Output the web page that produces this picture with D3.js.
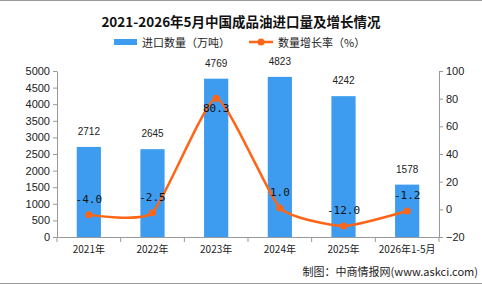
<!DOCTYPE html>
<html>
<head>
<meta charset="utf-8">
<script src="https://cdn.jsdelivr.net/npm/d3@7"></script>
<style>
  body { margin: 0; background: #fff; }
  svg text { font-family: "Noto Sans CJK SC", "DejaVu Sans", sans-serif; }
</style>
</head>
<body>
<div class="chart"></div>
<script>
var years = ["2021年", "2022年", "2023年", "2024年", "2025年", "2026年1-5月"];
var imports = [2712, 2645, 4769, 4823, 4242, 1578];
var growth = [-4.0, -2.5, 80.3, 1.0, -12.0, -1.2];
var leftTicks = [0, 500, 1000, 1500, 2000, 2500, 3000, 3500, 4000, 4500, 5000];
var rightTicks = [-20, 0, 20, 40, 60, 80, 100];

var width = 482, height = 284;
var svg = d3.select(".chart").append("svg").attr("width", width).attr("height", height);

// frame lines top and bottom
svg.append("line").attr("x1", 0).attr("x2", width).attr("y1", 0.5).attr("y2", 0.5).attr("stroke", "#999");
svg.append("line").attr("x1", 0).attr("x2", width).attr("y1", 283.5).attr("y2", 283.5).attr("stroke", "#999");

var x = d3.scaleBand().domain(years).range([57, 439]).paddingInner(0.62).paddingOuter(0.31);
var yL = d3.scaleLinear().domain([0, 5000]).range([237, 71]);
var yR = d3.scaleLinear().domain([-20, 100]).range([237, 71]);

// title
svg.append("text").attr("x", 241).attr("y", 27).attr("text-anchor", "middle")
  .attr("font-size", 13.5).attr("font-weight", "bold").attr("fill", "#111")
  .text("2021-2026年5月中国成品油进口量及增长情况");

// legend
svg.append("rect").attr("x", 114).attr("y", 39).attr("width", 23).attr("height", 6).attr("fill", "#3d9cf0");
svg.append("text").attr("x", 142).attr("y", 47).attr("font-size", 11).attr("fill", "#222").text("进口数量（万吨）");
svg.append("line").attr("x1", 249).attr("x2", 273).attr("y1", 42).attr("y2", 42).attr("stroke", "#ff6516").attr("stroke-width", 2.5);
svg.append("circle").attr("cx", 261).attr("cy", 42).attr("r", 3.5).attr("fill", "#ff6516");
svg.append("text").attr("x", 278).attr("y", 47).attr("font-size", 11).attr("fill", "#222").text("数量增长率（%）");

// axes
var axisL = svg.append("g").attr("transform", "translate(57,0)")
  .call(d3.axisLeft(yL).tickValues(leftTicks).tickFormat(d3.format("d")).tickSize(4).tickSizeOuter(0));
var axisR = svg.append("g").attr("transform", "translate(439,0)")
  .call(d3.axisRight(yR).tickValues(rightTicks).tickSize(4).tickSizeOuter(0));
var axisB = svg.append("g").attr("transform", "translate(0,237)")
  .call(d3.axisBottom(x).tickSize(0));
[axisL, axisR, axisB].forEach(function(g) {
  g.select(".domain").attr("stroke", "#999");
  g.selectAll(".tick line").attr("stroke", "#999");
  g.selectAll("text").attr("font-size", 11).attr("fill", "#222")
    .style("font-family", "'Liberation Sans', 'Noto Sans CJK SC', sans-serif");
});
axisB.selectAll("text").attr("font-size", 10).attr("dy", "1.3em").style("font-family", "'Noto Sans CJK SC', sans-serif");
// category boundary ticks
var bounds = years.map(function(d) { return x(d) - x.step() * x.paddingInner() / 2; });
bounds.push(439);
axisB.selectAll(".bnd").data(bounds).enter().append("line")
  .attr("x1", function(d) { return d; }).attr("x2", function(d) { return d; })
  .attr("y1", 0).attr("y2", 5).attr("stroke", "#999");

// bars
svg.selectAll(".bar").data(imports).enter().append("rect")
  .attr("x", function(d, i) { return x(years[i]); })
  .attr("y", function(d) { return yL(d); })
  .attr("width", x.bandwidth())
  .attr("height", function(d) { return 237 - yL(d); })
  .attr("fill", "#3d9cf0");

svg.selectAll(".barlbl").data(imports).enter().append("text")
  .attr("x", function(d, i) { return x(years[i]) + x.bandwidth() / 2; })
  .attr("y", function(d) { return yL(d) - 12; })
  .attr("text-anchor", "middle").attr("font-size", 10).attr("fill", "#222")
  .style("font-family", "'Liberation Sans', sans-serif")
  .text(function(d) { return d; });

// growth line
var line = d3.line()
  .x(function(d, i) { return x(years[i]) + x.bandwidth() / 2; })
  .y(function(d) { return yR(d); })
  .curve(d3.curveCardinal.tension(0.5));
svg.append("path").datum(growth).attr("d", line)
  .attr("fill", "none").attr("stroke", "#ff6516").attr("stroke-width", 2.5);
svg.selectAll(".pt").data(growth).enter().append("circle")
  .attr("cx", function(d, i) { return x(years[i]) + x.bandwidth() / 2; })
  .attr("cy", function(d) { return yR(d); })
  .attr("r", 3.5).attr("fill", "#ff6516");
var maxG = d3.max(growth);
svg.selectAll(".glbl").data(growth).enter().append("text")
  .attr("x", function(d, i) { return x(years[i]) + x.bandwidth() / 2; })
  .attr("y", function(d) { return d === maxG ? yR(d) + 14 : yR(d) - 12; }) // peak label sits under the point
  .attr("text-anchor", "middle").attr("font-size", 11).attr("fill", "#111")
  .style("font-family", "'DejaVu Sans Mono', monospace")
  .text(function(d) { return d.toFixed(1); });

// source
svg.append("text").attr("x", 478).attr("y", 276).attr("text-anchor", "end")
  .attr("font-size", 11).attr("fill", "#222")
  .text("制图：中商情报网(www.askci.com)");
</script>
</body>
</html>
